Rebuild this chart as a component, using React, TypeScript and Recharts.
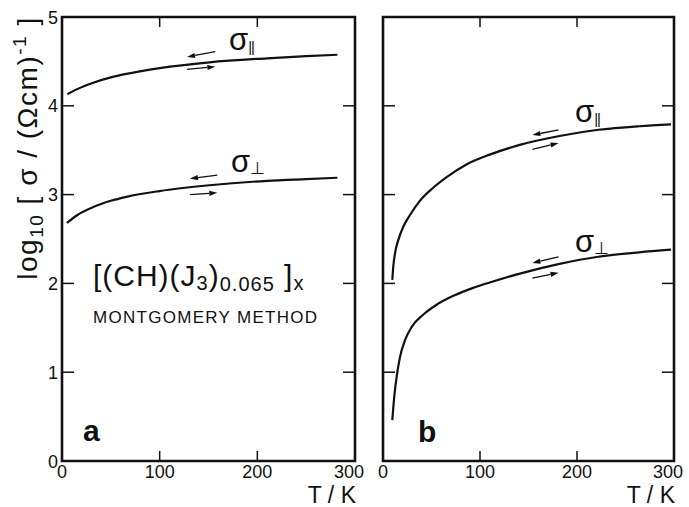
import { LineChart, Line, XAxis, YAxis, ReferenceArea, ReferenceLine, ReferenceDot } from 'recharts';

const FONT = '"Liberation Sans", Arial, sans-serif';
const INK = '#111';

const tTicks = [0, 100, 200, 300];
const vTicks = [0, 1, 2, 3, 4, 5];

// panel a : log10 sigma vs T
const aParT = [5.5, 15, 32, 50, 66, 100, 151, 210, 250, 282];
const aParV = [4.13, 4.185, 4.26, 4.32, 4.36, 4.425, 4.49, 4.535, 4.56, 4.575];
const aPerpT = [5, 15, 32, 50, 66, 100, 151, 210, 250, 282];
const aPerpV = [2.68, 2.765, 2.86, 2.93, 2.975, 3.04, 3.105, 3.155, 3.175, 3.19];

// panel b
const bParT = [9.6, 10.6, 12.4, 15.8, 21, 27.8, 38, 52, 66, 86, 110, 141, 182, 222, 264, 297];
const bParV = [2.04, 2.19, 2.34, 2.49, 2.64, 2.77, 2.93, 3.08, 3.2, 3.34, 3.45, 3.56, 3.66, 3.73, 3.77, 3.79];
const bPerpT = [9.6, 11.3, 14.1, 17.5, 22.7, 29.6, 41.6, 55.3, 72.5, 93, 110, 141, 182, 222, 264, 297];
const bPerpV = [0.46, 0.69, 0.95, 1.17, 1.36, 1.51, 1.65, 1.76, 1.86, 1.95, 2.01, 2.11, 2.22, 2.3, 2.35, 2.38];

// heating / cooling arrows [tFrom, vFrom, tTo, vTo]
const aArrows = [
  [157, 4.61, 128, 4.55],
  [128, 4.41, 157, 4.44],
  [159, 3.22, 131, 3.18],
  [131, 3.0, 159, 3.02],
];
const bArrows = [
  [181, 3.73, 154, 3.67],
  [154, 3.51, 181, 3.58],
  [181, 2.3, 154, 2.23],
  [154, 2.06, 181, 2.12],
];

// sigma labels [t, v, kind]
const aSigma: [number, number, string][] = [
  [171, 4.63, 'par'],
  [173, 3.25, 'perp'],
];
const bSigma: [number, number, string][] = [
  [198, 3.82, 'par'],
  [198, 2.35, 'perp'],
];

const pts = (ts: number[], vs: number[]) => ts.map((t, i) => ({ t, v: vs[i] }));

const TOP = 17;
const BOTTOM = 461;

const Arrow = (p: any) => {
  const { x1, y1, x2, y2 } = p;
  const a = Math.atan2(y2 - y1, x2 - x1);
  const L = 8;
  const W = 2.6;
  const bx = x2 - L * Math.cos(a);
  const by = y2 - L * Math.sin(a);
  const px = -Math.sin(a) * W;
  const py = Math.cos(a) * W;
  return (
    <g>
      <line x1={x1} y1={y1} x2={bx} y2={by} stroke={INK} strokeWidth={1.3} />
      <polygon points={`${x2},${y2} ${bx + px},${by + py} ${bx - px},${by - py}`} fill={INK} />
    </g>
  );
};

const YLabel = (p: any) => {
  const vb = p.viewBox || { x: 0, y: TOP };
  const cx = vb.x + 37;
  const cy = vb.y + 131;
  return (
    <text
      x={cx}
      y={cy}
      transform={`rotate(-90, ${cx}, ${cy})`}
      textAnchor="middle"
      fontFamily={FONT}
      fontSize={28}
      letterSpacing={1.5}
      fill={INK}
    >
      log<tspan fontSize={19} dy={6}>10</tspan>
      <tspan dy={-6}> [ σ / (Ωcm)</tspan>
      <tspan fontSize={19} dy={-11}>-1</tspan>
      <tspan dy={11}> ]</tspan>
    </text>
  );
};

const TKLabel = (p: any) => {
  const vb = p.viewBox;
  return (
    <text x={vb.x + vb.width + 1} y={vb.y + 42} textAnchor="end" fontFamily={FONT} fontSize={23} fill={INK}>
      T / K
    </text>
  );
};

type PanelProps = {
  width: number;
  left: number;
  right: number;
  yAxisWidth: number;
  showYLabels: boolean;
  par: { t: number; v: number }[];
  perp: { t: number; v: number }[];
  arrows: number[][];
  sigmas: [number, number, string][];
  letter: string;
  letterPos: [number, number];
  children?: any;
};

function Panel({ width, left, right, yAxisWidth, showYLabels, par, perp, arrows, sigmas, letter, letterPos, children }: PanelProps) {
  const xTick = (p: any) => {
    const v = p.payload.value;
    const edge = v === 0 || v === 300;
    return (
      <g>
        {!edge && <line x1={p.x} y1={BOTTOM} x2={p.x} y2={BOTTOM - 10} stroke={INK} strokeWidth={1.5} />}
        {!edge && <line x1={p.x} y1={TOP} x2={p.x} y2={TOP + 10} stroke={INK} strokeWidth={1.5} />}
        <text x={v === 300 ? p.x - 6 : p.x} y={BOTTOM + 17} textAnchor="middle" fontFamily={FONT} fontSize={18} fill={INK}>
          {v}
        </text>
      </g>
    );
  };
  const yTick = (p: any) => {
    const v = p.payload.value;
    const edge = v === 0 || v === 5;
    return (
      <g>
        {!edge && <line x1={left} y1={p.y} x2={left + 12} y2={p.y} stroke={INK} strokeWidth={1.5} />}
        {!edge && <line x1={right} y1={p.y} x2={right - 12} y2={p.y} stroke={INK} strokeWidth={1.5} />}
        {showYLabels && (
          <text x={left - 4} y={p.y + 6.5} textAnchor="end" fontFamily={FONT} fontSize={18} fill={INK}>
            {v}
          </text>
        )}
      </g>
    );
  };
  return (
    <LineChart width={width} height={507} margin={{ top: TOP, right: width - right, bottom: 0, left: 0 }}>
      <XAxis
        type="number"
        dataKey="t"
        domain={[0, 300]}
        ticks={tTicks}
        interval={0}
        axisLine={false}
        tickLine={false}
        tickSize={0}
        height={507 - BOTTOM}
        tick={xTick}
        label={<TKLabel />}
      />
      <YAxis
        type="number"
        dataKey="v"
        domain={[0, 5]}
        ticks={vTicks}
        interval={0}
        axisLine={false}
        tickLine={false}
        tickSize={0}
        width={yAxisWidth}
        tick={yTick}
        label={showYLabels ? <YLabel /> : undefined}
      />
      <ReferenceArea x1={0} x2={300} y1={0} y2={5} fill="none" stroke={INK} strokeWidth={2.6} ifOverflow="visible" />
      <Line data={par} dataKey="v" type="monotone" stroke={INK} strokeWidth={2.2} dot={false} isAnimationActive={false} />
      <Line data={perp} dataKey="v" type="monotone" stroke={INK} strokeWidth={2.2} dot={false} isAnimationActive={false} />
      {arrows.map((a, i) => (
        <ReferenceLine
          key={`arr-${i}`}
          segment={[
            { x: a[0], y: a[1] },
            { x: a[2], y: a[3] },
          ]}
          shape={Arrow}
        />
      ))}
      {sigmas.map((s, i) => (
        <ReferenceDot
          key={`sig-${i}`}
          x={s[0]}
          y={s[1]}
          shape={(p: any) => (
            <text x={p.cx} y={p.cy} fontFamily={FONT} fontSize={31} fill={INK}>
              σ
              {s[2] === 'par' ? (
                <tspan fontSize={15} dy={2} letterSpacing={-1}>||</tspan>
              ) : (
                <tspan fontSize={17} dy={2}>⊥</tspan>
              )}
            </text>
          )}
        />
      ))}
      <ReferenceDot
        x={letterPos[0]}
        y={letterPos[1]}
        shape={(p: any) => (
          <text x={p.cx} y={p.cy} fontFamily={FONT} fontSize={30} fontWeight="bold" fill={INK}>
            {letter}
          </text>
        )}
      />
      {children}
    </LineChart>
  );
}

export default function App() {
  return (
    <div style={{ position: 'absolute', left: 0, top: 0, width: 689, height: 507, background: '#fff' }}>
      <div style={{ position: 'absolute', left: 0, top: 0 }}>
        <Panel
          width={365}
          left={62}
          right={355}
          yAxisWidth={62}
          showYLabels
          par={pts(aParT, aParV)}
          perp={pts(aPerpT, aPerpV)}
          arrows={aArrows}
          sigmas={aSigma}
          letter="a"
          letterPos={[21.5, 0.22]}
        >
          <ReferenceDot
            x={31.7}
            y={1.97}
            shape={(p: any) => (
              <text x={p.cx} y={p.cy} fontFamily={FONT} fontSize={30} fill={INK} letterSpacing={1}>
                [(CH)(J<tspan fontSize={20} dy={4}>3</tspan>
                <tspan dy={-4}>)</tspan>
                <tspan fontSize={20} dy={5}>0.065</tspan>
                <tspan dy={-5}> ]</tspan>
                <tspan fontSize={20} dy={4}>x</tspan>
              </text>
            )}
          />
          <ReferenceDot
            x={31.7}
            y={1.55}
            shape={(p: any) => (
              <text x={p.cx} y={p.cy} fontFamily={FONT} fontSize={17} fill={INK} letterSpacing={1.3}>
                MONTGOMERY METHOD
              </text>
            )}
          />
        </Panel>
      </div>
      <div style={{ position: 'absolute', left: 365, top: 0 }}>
        <Panel
          width={324}
          left={18}
          right={309}
          yAxisWidth={18}
          showYLabels={false}
          par={pts(bParT, bParV)}
          perp={pts(bPerpT, bPerpV)}
          arrows={bArrows}
          sigmas={bSigma}
          letter="b"
          letterPos={[36, 0.21]}
        />
      </div>
    </div>
  );
}
